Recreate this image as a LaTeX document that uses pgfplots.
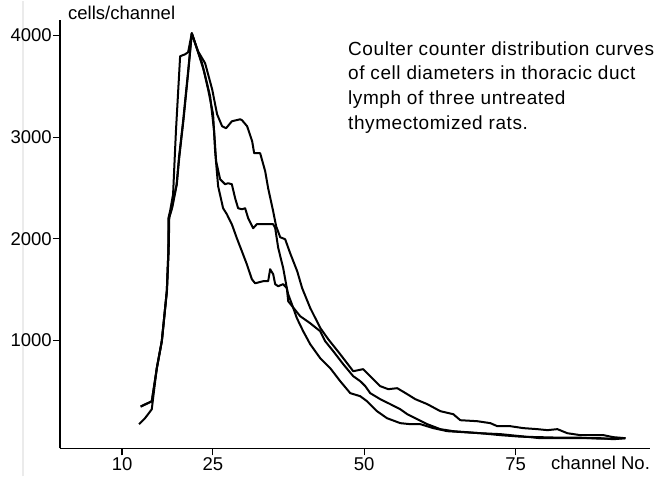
\documentclass[border=0pt]{standalone}
\usepackage{fontspec}
\setmainfont{Liberation Sans}
\newfontfamily\titlefont[LetterSpace=3]{Liberation Sans}
\usepackage{pgfplots}
\pgfplotsset{compat=1.18}
\usetikzlibrary{backgrounds,calc}

\begin{document}
\begin{tikzpicture}
\begin{axis}[name=ax,scale only axis,
  width=590bp,height=428bp,
  xmin=-0.25,xmax=97.2,ymin=-60,ymax=4150,
  axis x line*=bottom,axis y line*=left,
  axis line style={-,line width=1.5bp},
  xtick={10,25,50,75},ytick={1000,2000,3000,4000},
  tick align=outside,major tick length=7bp,
  tick style={black,line width=1.2bp},
  /pgf/number format/assume math mode=true,
  /pgf/number format/1000 sep={},
  ticklabel style={font=\fontsize{18.5bp}{20bp}\selectfont},
  yticklabel style={inner sep=1bp},
  xticklabel style={inner sep=2bp},
  clip=false]
% page frame (666 x 475 px)
\path (rel axis cs:-0.10169,-0.06542) rectangle (rel axis cs:1.02712,1.04439);
\addplot[black,line width=2bp,line join=round] coordinates {
(12.81,177) (13.80,236) (14.91,324) (15.74,731) (16.56,993) (17.11,1318)
(17.39,1485) (17.65,1878) (17.75,2203) (18.2,2300) (19.0,2530) (19.4,2800)
(20.08,3156) (20.91,3648) (21.52,4022) (22.56,3844) (23.72,3727) (24.88,3471)
(25.70,3225) (26.53,3107) (27.19,3088) (28.13,3156) (29.50,3176) (29.83,3166)
(30.66,3107) (31.49,2960) (31.82,2842) (32.81,2842) (33.64,2665) (34.13,2498)
(34.96,2271) (35.45,2124) (36.12,2016) (36.94,1996) (37.77,1858) (38.93,1681)
(39.75,1514) (41.07,1321) (42.73,1124) (44.05,1013) (46.03,865) (48.18,698)
(49.83,718) (50.99,649) (52.64,551) (53.97,521) (55.45,531) (57.11,472)
(58.43,423) (60.41,374) (62.56,305) (64.71,275) (65.87,216) (68.68,206)
(70.83,187) (71.98,157) (74.13,157) (76.28,138) (78.60,128) (80.25,118)
(81.90,128) (83.55,88) (85.70,69) (87.85,69) (89.50,69) (91.16,49) (93.14,39)
};
\addplot[black,line width=2bp,line join=round] coordinates {
(13.06,349) (13.97,374) (14.91,403) (15.74,728) (16.56,993) (17.11,1318)
(17.39,1485) (17.65,1878) (17.65,2203) (17.93,2271) (18.43,2439) (18.7,2800)
(18.9,3058) (19.59,3796) (20.41,3815) (20.91,3835) (21.52,4022) (22.40,3864)
(23.55,3648) (24.55,3402) (25.21,3058) (25.54,2763) (26.20,2586) (27.02,2537)
(27.52,2547) (28.13,2537) (28.68,2399) (29.17,2301) (29.79,2291) (30.33,2301)
(30.83,2203) (31.65,2104) (32.26,2144) (33.31,2144) (34.96,2144) (35.29,2107)
(35.79,1911) (36.61,1714) (37.22,1514) (37.44,1386) (39.42,1239) (41.07,1170)
(42.73,1091) (43.55,993) (44.88,895) (46.53,767) (48.18,649) (49.34,600)
(50.17,551) (50.99,482) (52.64,423) (54.30,374) (55.95,324) (57.11,275)
(58.76,226) (60.41,177) (62.56,128) (64.71,108) (69.17,88) (72.48,79)
(75.79,59) (79.09,39) (82.40,39) (85.70,39) (89.01,39) (91.16,29) (93.14,39)
};
\addplot[black,line width=2bp,line join=round] coordinates {
(13.1,352) (14.0,378) (14.9,400) (15.76,730) (16.58,995) (17.13,1320)
(17.42,1490) (17.7,1880) (17.8,2210) (18.3,2310) (19.05,2540) (19.45,2800)
(20.13,3160) (20.95,3650) (21.52,4022) (22.23,3894) (23.22,3727) (24.21,3471)
(25.04,3225) (25.37,2861) (25.87,2517) (26.69,2301) (27.31,2242) (28.13,2144)
(28.96,2006) (29.79,1878) (30.61,1750) (31.44,1603) (31.98,1563) (33.31,1583)
(34.13,1583) (34.46,1701) (34.96,1652) (35.29,1554) (35.79,1534) (36.61,1554)
(37.22,1514) (37.44,1455) (38.05,1357) (38.88,1219) (39.92,1091) (41.07,964)
(42.73,826) (44.38,728) (46.03,600) (47.69,482) (49.34,452) (50.45,403)
(52.10,305) (53.75,236) (55.95,187) (57.60,177) (59.26,177) (61.40,138)
(63.72,108) (69.17,88) (72.48,69) (75.79,54) (79.09,49) (82.40,44)
(85.70,44) (89.01,34) (93.14,39)
};
\node[anchor=base west,inner sep=0pt,font=\fontsize{18.5bp}{20bp}\selectfont]
  at (rel axis cs:0.01356,1.00234) {cells/channel};
\node[anchor=base west,inner sep=0pt,font=\fontsize{18.5bp}{20bp}\selectfont]
  at (rel axis cs:0.83220,-0.04907) {channel No.};
\begin{scope}[font=\titlefont\fontsize{19bp}{25bp}\selectfont]
\node[anchor=base west,inner sep=0pt] at (rel axis cs:0.48814,0.91822) {Coulter counter distribution curves};
\node[anchor=base west,inner sep=0pt] at (rel axis cs:0.48814,0.86215) {of cell diameters in thoracic duct};
\node[anchor=base west,inner sep=0pt] at (rel axis cs:0.48814,0.80374) {lymph of three untreated};
\node[anchor=base west,inner sep=0pt] at (rel axis cs:0.48814,0.74533) {thymectomized rats.};
\end{scope}
\end{axis}
% faint scan line behind the tick labels
\begin{scope}[on background layer]
\draw[black!8,line width=2.5bp] ($(ax.south west)+(-37bp,-28bp)$) -- ++(0,475bp);
\end{scope}
\end{tikzpicture}
\end{document}
